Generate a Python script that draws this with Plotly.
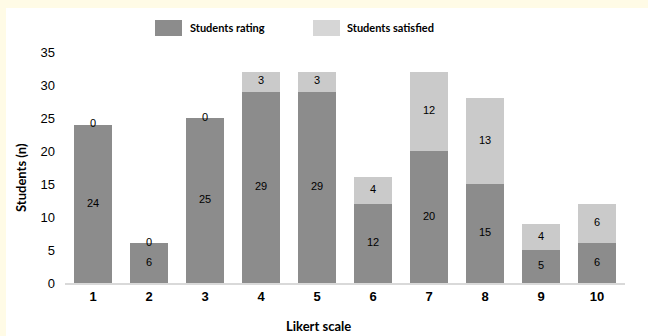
import plotly.graph_objects as go

categories = ["1", "2", "3", "4", "5", "6", "7", "8", "9", "10"]
rating = [24, 6, 25, 29, 29, 12, 20, 15, 5, 6]
satisfied = [0, 0, 0, 3, 3, 4, 12, 13, 4, 6]
series_names = ["Students rating", "Students satisfied"]
y_ticks = [0, 5, 10, 15, 20, 25, 30, 35]

DARK = "#8c8c8c"
LIGHT = "#cacaca"
W, H = 648, 336
ML, MR, MT, MB = 65, 23, 52, 53
PW, PH = W - ML - MR, H - MT - MB

def px_x(x):
    return (x - ML) / PW

def px_y(y):
    return (H - MB - y) / PH

fig = go.Figure()
fig.add_trace(go.Bar(x=categories, y=rating, name=series_names[0],
                     marker=dict(color=DARK, line=dict(width=0)), showlegend=False))
fig.add_trace(go.Bar(x=categories, y=satisfied, name=series_names[1],
                     marker=dict(color=LIGHT, line=dict(width=0)), showlegend=False))

label_font = dict(family="Liberation Sans, Arial", size=11, color="#000000")
fig.add_trace(go.Scatter(x=categories, y=[r / 2 for r in rating], mode="text",
                         text=[str(v) for v in rating], showlegend=False,
                         textfont=label_font, hoverinfo="skip"))
fig.add_trace(go.Scatter(x=categories, y=[r + s / 2 for r, s in zip(rating, satisfied)],
                         mode="text", text=[str(v) for v in satisfied], showlegend=False,
                         textfont=label_font, hoverinfo="skip"))

shapes = [
    dict(type="rect", xref="paper", yref="paper", layer="below",
         x0=px_x(6), x1=px_x(W + 2), y0=px_y(H + 2), y1=px_y(8),
         fillcolor="white", line=dict(width=0)),
    dict(type="rect", xref="paper", yref="paper",
         x0=px_x(155), x1=px_x(182), y0=px_y(36), y1=px_y(20),
         fillcolor=DARK, line=dict(width=0)),
    dict(type="rect", xref="paper", yref="paper",
         x0=px_x(313), x1=px_x(340), y0=px_y(36), y1=px_y(20),
         fillcolor="#d6d6d6", line=dict(width=0)),
]

ann_font = dict(family="Lato, Open Sans, sans-serif", size=11, color="#000")
annotations = [
    dict(xref="paper", yref="paper", x=px_x(188), y=px_y(28), xanchor="left", yanchor="middle",
         text="<b>" + series_names[0] + "</b>", showarrow=False, font=ann_font),
    dict(xref="paper", yref="paper", x=px_x(345), y=px_y(28), xanchor="left", yanchor="middle",
         text="<b>" + series_names[1] + "</b>", showarrow=False, font=ann_font),
    dict(xref="paper", yref="paper", x=px_x(21), y=px_y(178), xanchor="center", yanchor="middle",
         text="<b>Students (n)</b>", textangle=-90, showarrow=False,
         font=dict(family="Lato, Open Sans, sans-serif", size=13, color="#000")),
    dict(xref="paper", yref="paper", x=px_x(318), y=px_y(326), xanchor="center", yanchor="middle",
         text="<b>Likert scale</b>", showarrow=False,
         font=dict(family="Lato, Open Sans, sans-serif", size=13, color="#000")),
]

fig.update_layout(
    width=W, height=H,
    margin=dict(l=ML, r=MR, t=MT, b=MB),
    barmode="stack", bargap=0.31,
    paper_bgcolor="#fffbe6", plot_bgcolor="rgba(0,0,0,0)",
    shapes=shapes, annotations=annotations,
    xaxis=dict(type="category", showgrid=False, showline=True, linecolor="#d9d9d9",
               linewidth=2, ticks="", ticklabelstandoff=0,
               tickfont=dict(family="Liberation Sans, Arial", size=13, color="#000"),
               range=[-0.5, 9.5]),
    yaxis=dict(range=[0, 35], tickvals=y_ticks, showgrid=False, zeroline=False,
               showline=False, ticks="", ticklabelstandoff=9,
               tickfont=dict(family="Liberation Sans, Arial", size=13, color="#000")),
)
fig.update_xaxes(tickprefix="<b>", ticksuffix="</b>")
fig.update_yaxes(tickprefix="<b>", ticksuffix="</b>")

fig.write_html("out.html")
